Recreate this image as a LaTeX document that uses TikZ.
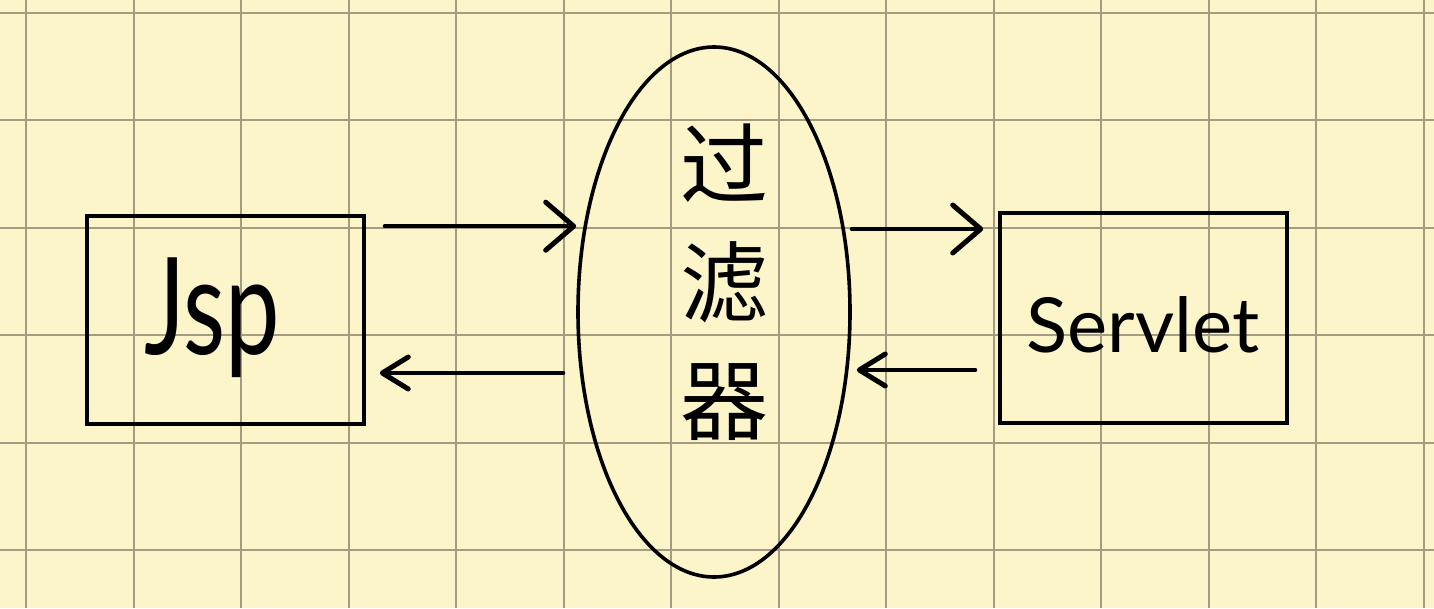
\documentclass[tikz,border=0pt]{standalone}
\usepackage{fontspec}
\newfontfamily\cjk{Noto Sans CJK SC}
\newfontfamily\hand{Lato}
\usetikzlibrary{arrows.meta,shapes.geometric,calc}
\definecolor{paper}{HTML}{FBF5C9}
\definecolor{gridc}{HTML}{A39B82}
\tikzset{
  box/.style={draw=black, line width=3.6pt, rectangle, inner sep=0pt},
  oval/.style={draw=black, line width=3.6pt, ellipse, inner sep=0pt},
  arr/.style={line width=4.2pt, line cap=round, -{Straight Barb[length=28pt,width=48pt,line width=5pt,round]}},
  arrs/.style={line width=4.2pt, line cap=round, -{Straight Barb[length=26pt,width=32pt,line width=5pt,round]}},
}
\begin{document}
\begin{tikzpicture}[x=1pt,y=-1pt]
\fill[paper] (0,0) rectangle (1434,608);
\useasboundingbox (0,0) rectangle (1434,608);
\foreach \i in {0,...,13} \draw[gridc, line width=2pt] ({26+107.5*\i},0) -- ({26+107.5*\i},608);
\foreach \j in {0,...,5} \draw[gridc, line width=2pt] (0,{13+107.4*\j}) -- (1434,{13+107.4*\j});

\node[box, minimum width=277pt, minimum height=208pt] (jsp) at (225.5,320) {};
\node[font=\hand\fontsize{135}{135}\selectfont, xscale=0.72] (jsptext) at (212,318) {Jsp};

\node[oval, minimum width=272pt, minimum height=530pt] (filter) at (714,312) {};
\node[font=\cjk\fontsize{88}{118}\selectfont, align=center] (filtertext) at (724,282) {过\\滤\\器};

\node[box, minimum width=287pt, minimum height=210pt] (servlet) at (1143.5,318) {};
\node[font=\hand\fontsize{76}{76}\selectfont] (servlettext) at (1143,325) {Servlet};

\coordinate (a1s) at ([shift={(19,12)}]jsp.north east);
\draw[arr] (a1s) -- (filter.west |- a1s);
\coordinate (a2s) at ($(filter.west)+(-13,61)$);
\draw[arrs] (a2s) -- ($(jsp.east |- a2s)+(14,0)$);
\coordinate (a3s) at ($(filter.east)+(0,-83)$);
\draw[arr] (a3s) -- ($(servlet.west |- a3s)+(-15,0)$);
\coordinate (a4s) at ($(servlet.west)+(-23,52)$);
\draw[arrs] (a4s) -- ($(filter.east |- a4s)+(5,0)$);
\end{tikzpicture}
\end{document}
